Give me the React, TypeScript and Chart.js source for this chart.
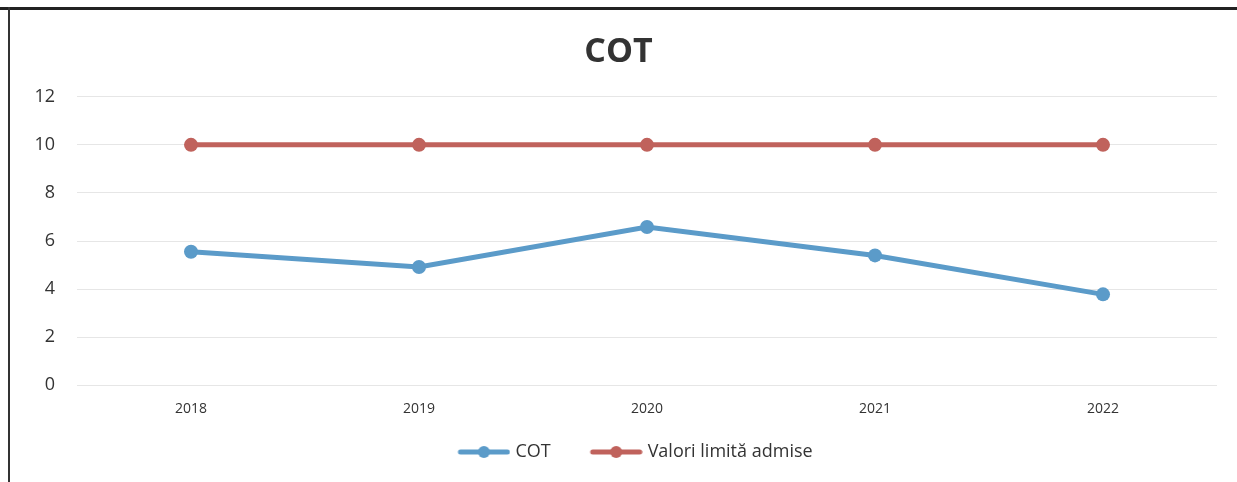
import React, { useEffect, useRef } from "react";
import { Chart, registerables } from "chart.js";

Chart.register(...registerables);

const categories = ["2018", "2019", "2020", "2021", "2022"];
const cotValues = [5.55, 4.92, 6.58, 5.4, 3.78];
const limitValues = [10, 10, 10, 10, 10];
const yTicks = [0, 2, 4, 6, 8, 10, 12];

const BLUE = "#5b9bc9";
const RED = "#c0625c";
const FONT = "'Open Sans', 'Noto Sans', sans-serif";

function legendIcon(color: string): HTMLCanvasElement {
  const c = document.createElement("canvas");
  c.width = 90;
  c.height = 14;
  const ctx = c.getContext("2d")!;
  ctx.strokeStyle = color;
  ctx.lineWidth = 5;
  ctx.lineCap = "round";
  ctx.beginPath();
  ctx.moveTo(40, 7);
  ctx.lineTo(87, 7);
  ctx.stroke();
  ctx.fillStyle = color;
  ctx.beginPath();
  ctx.arc(63.5, 7, 6, 0, Math.PI * 2);
  ctx.fill();
  return c;
}

export default function App() {
  const ref = useRef<HTMLCanvasElement | null>(null);

  useEffect(() => {
    document.body.style.margin = "0";
    if (!ref.current) return;
    const icons = [legendIcon(BLUE), legendIcon(RED)];
    const chart = new Chart(ref.current, {
      type: "line",
      data: {
        labels: categories,
        datasets: [
          {
            label: "COT",
            data: cotValues,
            borderColor: BLUE,
            backgroundColor: BLUE,
            borderWidth: 5,
            pointRadius: 7,
            pointHoverRadius: 7,
            pointBorderWidth: 0,
            pointStyle: "circle",
          },
          {
            label: "Valori limită admise",
            data: limitValues,
            borderColor: RED,
            backgroundColor: RED,
            borderWidth: 5,
            pointRadius: 7,
            pointHoverRadius: 7,
            pointBorderWidth: 0,
            pointStyle: "circle",
          },
        ],
      },
      options: {
        responsive: false,
        animation: false,
        layout: { padding: { left: 20, right: 20, top: 25, bottom: 11 } },
        plugins: {
          title: {
            display: true,
            text: "COT",
            color: "#333",
            font: { family: FONT, size: 34, weight: "bold" },
            padding: { top: 7, bottom: 24 },
          },
          legend: {
            position: "bottom",
            labels: {
              usePointStyle: true,
              pointStyleWidth: 82,
              boxHeight: 14,
              color: "#333",
              font: { family: FONT, size: 18 },
              padding: 6,
              generateLabels: (ch: any) =>
                ch.data.datasets.map((ds: any, i: number) => ({
                  text: ds.label,
                  fillStyle: ds.borderColor,
                  strokeStyle: ds.borderColor,
                  lineWidth: 0,
                  pointStyle: icons[i],
                  datasetIndex: i,
                  hidden: false,
                  fontColor: "#333",
                })),
            },
          },
          tooltip: { enabled: false },
        },
        scales: {
          x: {
            offset: true,
            afterFit: (s: any) => {
              s.height += 5;
            },
            grid: { display: false, drawTicks: false },
            border: { display: false },
            ticks: {
              color: "#333",
              font: { family: FONT, size: 14 },
              padding: 15,
            },
          },
          y: {
            min: 0,
            max: 12,
            afterFit: (s: any) => {
              s.width = 57;
            },
            afterBuildTicks: (s: any) => {
              s.ticks = yTicks.map((v) => ({ value: v }));
            },
            grid: { color: "#e6e6e6", lineWidth: 1, drawTicks: false },
            border: { display: false },
            ticks: {
              color: "#333",
              font: { family: FONT, size: 18 },
              padding: 22,
            },
          },
        },
      },
    });
    return () => chart.destroy();
  }, []);

  return (
    <div style={{ position: "relative", width: 1237, height: 482, background: "#fff" }}>
      <canvas ref={ref} width={1237} height={482} style={{ display: "block" }} />
      <div style={{ position: "absolute", left: 0, top: 7, width: 1237, height: 3, background: "#222" }} />
      <div style={{ position: "absolute", left: 8, top: 7, width: 2, height: 475, background: "#333" }} />
    </div>
  );
}
